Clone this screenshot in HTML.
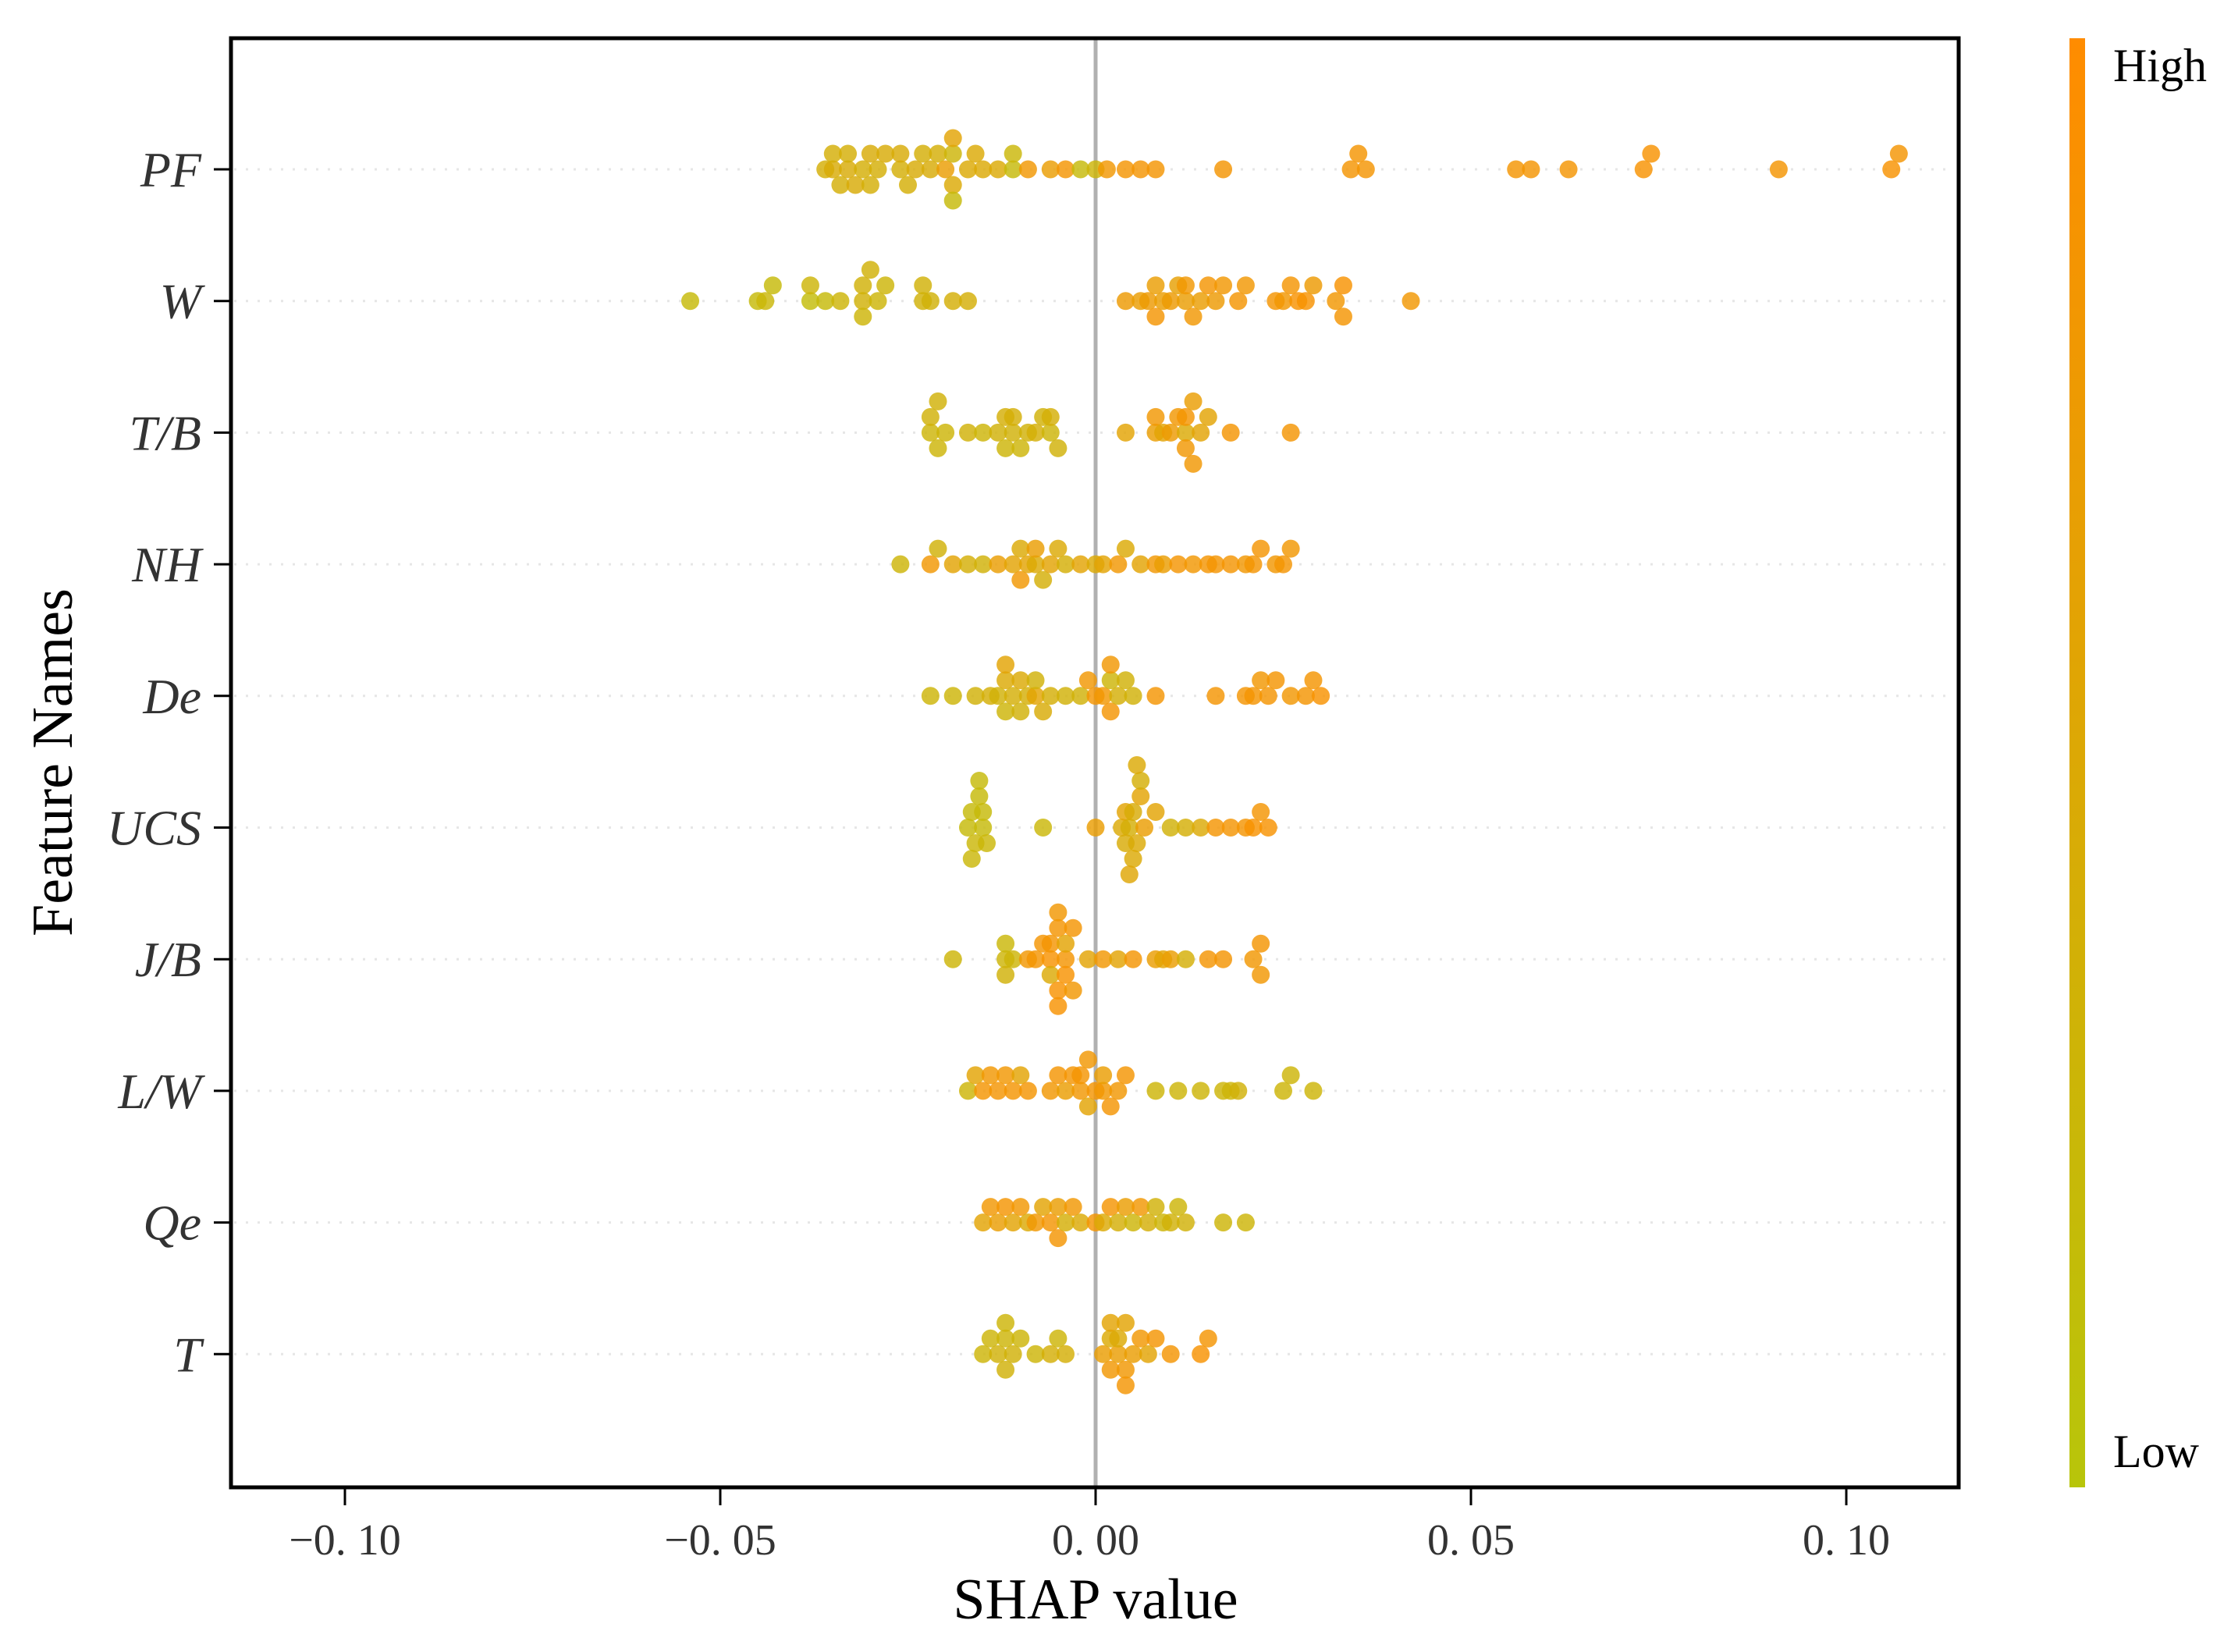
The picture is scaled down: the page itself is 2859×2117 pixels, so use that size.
<!DOCTYPE html>
<html><head><meta charset="utf-8"><style>
html,body{margin:0;padding:0;background:#fff;}
svg{display:block;font-family:"Liberation Serif",serif;}
</style></head><body>
<svg id="chart" width="2859" height="2117" viewBox="0 0 2859 2117" xmlns="http://www.w3.org/2000/svg">
<defs><linearGradient id="cbar" x1="0" y1="1" x2="0" y2="0"><stop offset="0" stop-color="#b8c50a"/><stop offset="1" stop-color="#ff8c00"/></linearGradient></defs>
<g id="grid"></g>
<line x1="1404" y1="49" x2="1404" y2="1905" stroke="#b0b0b0" stroke-width="5"/>
<g id="dots"></g>
<rect x="296" y="49" width="2214" height="1857" fill="none" stroke="#000" stroke-width="5"/>
<g id="xaxis"></g>
<g id="yaxis"></g>
<text x="1404" y="2074" font-size="74" text-anchor="middle">SHAP value</text>
<text transform="translate(92,977) rotate(-90)" font-size="74" text-anchor="middle">Feature Names</text>
<rect x="2652" y="49" width="20" height="1857" fill="url(#cbar)"/>
<text x="2708" y="104" font-size="60">High</text>
<text x="2708" y="1880" font-size="60">Low</text>
</svg>
<script>
const features = ["PF","W","T/B","NH","De","UCS","J/B","L/W","Qe","T"];
const xTicks = [-0.10,-0.05,0.00,0.05,0.10];
const xTickLabels = ["\u22120. 10","\u22120. 05","0. 00","0. 05","0. 10"];
const shapPF = [-0.036,-0.035,-0.035,-0.034,-0.033,-0.033,-0.032,-0.031,-0.030,-0.030,-0.029,-0.028,-0.026,-0.026,-0.025,-0.024,-0.023,-0.022,-0.021,-0.020,-0.019,-0.019,-0.019,-0.019,-0.017,-0.016,-0.015,-0.013,-0.011,-0.011,-0.009,-0.006,-0.004,-0.002,0.000,0.0015,0.004,0.006,0.008,0.017,0.034,0.035,0.036,0.056,0.058,0.063,0.073,0.074,0.091,0.106,0.107];
const colorPF = [0.4,0.45,0.4,0.4,0.45,0.4,0.45,0.4,0.45,0.4,0.4,0.45,0.4,0.45,0.4,0.45,0.4,0.45,0.4,0.7,0.3,0.5,0.6,0.2,0.5,0.5,0.5,0.5,0.2,0.25,0.8,0.7,0.85,0.2,0.3,0.8,0.85,0.85,0.85,0.85,0.85,0.85,0.85,0.85,0.85,0.85,0.9,0.9,0.85,0.9,0.85];
const shapW = [-0.054,-0.045,-0.044,-0.043,-0.038,-0.038,-0.036,-0.034,-0.031,-0.031,-0.031,-0.030,-0.029,-0.028,-0.023,-0.023,-0.022,-0.019,-0.017,0.004,0.006,0.007,0.008,0.008,0.009,0.010,0.011,0.012,0.012,0.013,0.014,0.015,0.016,0.017,0.019,0.020,0.024,0.025,0.026,0.027,0.028,0.029,0.032,0.033,0.033,0.042];
const colorW = [0.2,0.2,0.25,0.2,0.15,0.3,0.2,0.3,0.35,0.35,0.3,0.35,0.3,0.3,0.35,0.35,0.35,0.4,0.4,0.75,0.7,0.75,0.7,0.85,0.7,0.75,0.65,0.7,0.8,0.8,0.7,0.85,0.75,0.8,0.85,0.8,0.85,0.8,0.85,0.9,0.9,0.75,0.8,0.9,0.85,0.8];
const shapTB = [-0.022,-0.022,-0.021,-0.021,-0.020,-0.017,-0.015,-0.013,-0.012,-0.012,-0.011,-0.011,-0.010,-0.009,-0.008,-0.007,-0.006,-0.006,-0.005,0.004,0.008,0.008,0.009,0.010,0.011,0.012,0.012,0.012,0.013,0.013,0.014,0.015,0.018,0.026];
const colorTB = [0.3,0.35,0.3,0.35,0.3,0.35,0.3,0.35,0.4,0.3,0.35,0.4,0.3,0.35,0.4,0.35,0.3,0.4,0.35,0.6,0.7,0.8,0.6,0.75,0.8,0.5,0.85,0.8,0.7,0.8,0.6,0.6,0.85,0.85];
const shapNH = [-0.026,-0.022,-0.021,-0.019,-0.017,-0.015,-0.013,-0.011,-0.010,-0.010,-0.009,-0.008,-0.008,-0.007,-0.006,-0.005,-0.004,-0.002,0.000,0.001,0.003,0.004,0.006,0.008,0.009,0.011,0.013,0.015,0.016,0.018,0.020,0.021,0.022,0.024,0.025,0.026];
const colorNH = [0.3,0.8,0.35,0.6,0.4,0.35,0.7,0.6,0.5,0.8,0.6,0.5,0.7,0.4,0.6,0.5,0.4,0.6,0.5,0.6,0.8,0.5,0.6,0.8,0.7,0.85,0.8,0.85,0.85,0.85,0.8,0.85,0.85,0.8,0.85,0.8];
const shapDe = [-0.022,-0.019,-0.016,-0.014,-0.013,-0.012,-0.012,-0.012,-0.011,-0.010,-0.010,-0.009,-0.008,-0.008,-0.007,-0.006,-0.004,-0.002,-0.001,0.000,0.001,0.002,0.002,0.002,0.003,0.004,0.005,0.008,0.016,0.020,0.021,0.022,0.023,0.024,0.026,0.028,0.029,0.030];
const colorDe = [0.3,0.3,0.35,0.4,0.35,0.5,0.3,0.6,0.4,0.5,0.35,0.4,0.6,0.35,0.45,0.4,0.35,0.35,0.8,0.85,0.8,0.3,0.85,0.8,0.4,0.35,0.35,0.85,0.85,0.85,0.85,0.8,0.85,0.85,0.8,0.85,0.85,0.9];
const shapUCS = [-0.017,-0.0165,-0.016,-0.0155,-0.015,-0.0165,-0.0155,-0.015,-0.0145,-0.007,0.000,0.0035,0.004,0.0045,0.005,0.0055,0.006,0.0065,0.004,0.005,0.006,0.0045,0.0055,0.008,0.010,0.012,0.014,0.016,0.018,0.020,0.021,0.022,0.023];
const colorUCS = [0.2,0.2,0.25,0.2,0.2,0.25,0.2,0.2,0.25,0.25,0.7,0.5,0.6,0.4,0.45,0.5,0.6,0.7,0.45,0.5,0.4,0.55,0.5,0.6,0.35,0.4,0.5,0.85,0.85,0.85,0.9,0.85,0.9];
const shapJB = [-0.019,-0.012,-0.012,-0.012,-0.011,-0.009,-0.008,-0.007,-0.006,-0.006,-0.006,-0.005,-0.005,-0.005,-0.005,-0.004,-0.004,-0.004,-0.003,-0.003,-0.001,0.001,0.003,0.005,0.008,0.009,0.010,0.012,0.015,0.017,0.021,0.022,0.022];
const colorJB = [0.3,0.3,0.25,0.35,0.3,0.8,0.85,0.85,0.9,0.85,0.5,0.85,0.9,0.8,0.9,0.85,0.6,0.9,0.85,0.8,0.6,0.8,0.6,0.85,0.7,0.6,0.7,0.4,0.85,0.85,0.8,0.85,0.8];
const shapLW = [-0.017,-0.016,-0.015,-0.014,-0.013,-0.012,-0.011,-0.010,-0.009,-0.006,-0.005,-0.004,-0.003,-0.002,-0.002,-0.001,-0.001,0.000,0.001,0.001,0.002,0.003,0.004,0.008,0.011,0.014,0.017,0.018,0.019,0.025,0.026,0.029];
const colorLW = [0.3,0.6,0.85,0.8,0.85,0.8,0.85,0.6,0.85,0.8,0.85,0.7,0.85,0.8,0.85,0.6,0.8,0.85,0.8,0.7,0.85,0.8,0.85,0.3,0.3,0.3,0.3,0.3,0.35,0.3,0.3,0.3];
const shapQe = [-0.015,-0.014,-0.013,-0.012,-0.011,-0.010,-0.009,-0.008,-0.007,-0.006,-0.005,-0.005,-0.004,-0.003,-0.002,0.000,0.001,0.002,0.003,0.004,0.005,0.006,0.007,0.008,0.009,0.010,0.011,0.012,0.017,0.020];
const colorQe = [0.6,0.8,0.7,0.85,0.6,0.8,0.5,0.8,0.6,0.85,0.7,0.85,0.4,0.8,0.5,0.85,0.5,0.85,0.4,0.7,0.3,0.8,0.4,0.35,0.3,0.35,0.3,0.35,0.3,0.3];
const shapT = [-0.015,-0.014,-0.013,-0.012,-0.012,-0.012,-0.011,-0.010,-0.008,-0.006,-0.005,-0.004,0.001,0.002,0.002,0.002,0.003,0.003,0.004,0.004,0.004,0.005,0.006,0.007,0.008,0.010,0.014,0.015];
const colorT = [0.3,0.3,0.35,0.3,0.35,0.3,0.35,0.3,0.3,0.4,0.3,0.4,0.7,0.5,0.8,0.6,0.7,0.5,0.8,0.6,0.85,0.7,0.8,0.6,0.85,0.85,0.9,0.85];
const shapAll = [shapPF,shapW,shapTB,shapNH,shapDe,shapUCS,shapJB,shapLW,shapQe,shapT];
const colorAll = [colorPF,colorW,colorTB,colorNH,colorDe,colorUCS,colorJB,colorLW,colorQe,colorT];

const NS="http://www.w3.org/2000/svg";
const x0=1404, xPerUnit=9620, yTop=217, rowStep=168.7, stackStep=20;
function xScale(v){return x0+v*xPerUnit;}
function yScale(i){return yTop+i*rowStep;}
function colorOf(t){
  const a=[184,197,10], b=[255,140,0];
  return "rgb("+a.map((c,k)=>Math.round(c+(b[k]-c)*t)).join(",")+")";
}
const gGrid=document.getElementById("grid"), gDots=document.getElementById("dots"),
      gX=document.getElementById("xaxis"), gY=document.getElementById("yaxis");
features.forEach((f,i)=>{
  const y=yScale(i);
  const gl=document.createElementNS(NS,"line");
  
  
  gl.setAttribute("x1",300);gl.setAttribute("x2",2500);gl.setAttribute("y1",y);gl.setAttribute("y2",y);
  gl.setAttribute("stroke","#e6e6e6");gl.setAttribute("stroke-width","3");gl.setAttribute("stroke-dasharray","3,12");
  gGrid.appendChild(gl);
  const tk=document.createElementNS(NS,"line");
  
  
  tk.setAttribute("x1",274);tk.setAttribute("x2",296);tk.setAttribute("y1",y);tk.setAttribute("y2",y);
  tk.setAttribute("stroke","#000");tk.setAttribute("stroke-width","3");
  gY.appendChild(tk);
  const t=document.createElementNS(NS,"text");
  
  
  t.setAttribute("x",258);t.setAttribute("y",y+22);t.setAttribute("text-anchor","end");
  t.setAttribute("font-size","64");t.setAttribute("font-style","italic");t.setAttribute("fill","#333");
  t.textContent=f;gY.appendChild(t);
  const vals=shapAll[i], cols=colorAll[i], bins={};
  vals.forEach((v,j)=>{
    const b=Math.round(v/0.0018);
    const n=bins[b]||0; bins[b]=n+1;
    const off = n===0?0:(n%2===1?-Math.ceil(n/2):Math.ceil(n/2));
    const c=document.createElementNS(NS,"circle");
    
    
    c.setAttribute("cx",xScale(v));c.setAttribute("cy",y+off*stackStep);
    c.setAttribute("r",11.5);c.setAttribute("fill",colorOf(cols[j]));c.setAttribute("fill-opacity","0.82");
    gDots.appendChild(c);
  });
});
xTicks.forEach((v,k)=>{
  const x=xScale(v);
  const tk=document.createElementNS(NS,"line");
  
  
  tk.setAttribute("x1",x);tk.setAttribute("x2",x);tk.setAttribute("y1",1907);tk.setAttribute("y2",1929);
  tk.setAttribute("stroke","#000");tk.setAttribute("stroke-width","3");
  gX.appendChild(tk);
  const t=document.createElementNS(NS,"text");
  
  
  t.setAttribute("x",x);t.setAttribute("y",1992);t.setAttribute("text-anchor","middle");
  t.setAttribute("font-size","56");t.setAttribute("fill","#333");
  t.textContent=xTickLabels[k];gX.appendChild(t);
});
</script>
</body></html>
